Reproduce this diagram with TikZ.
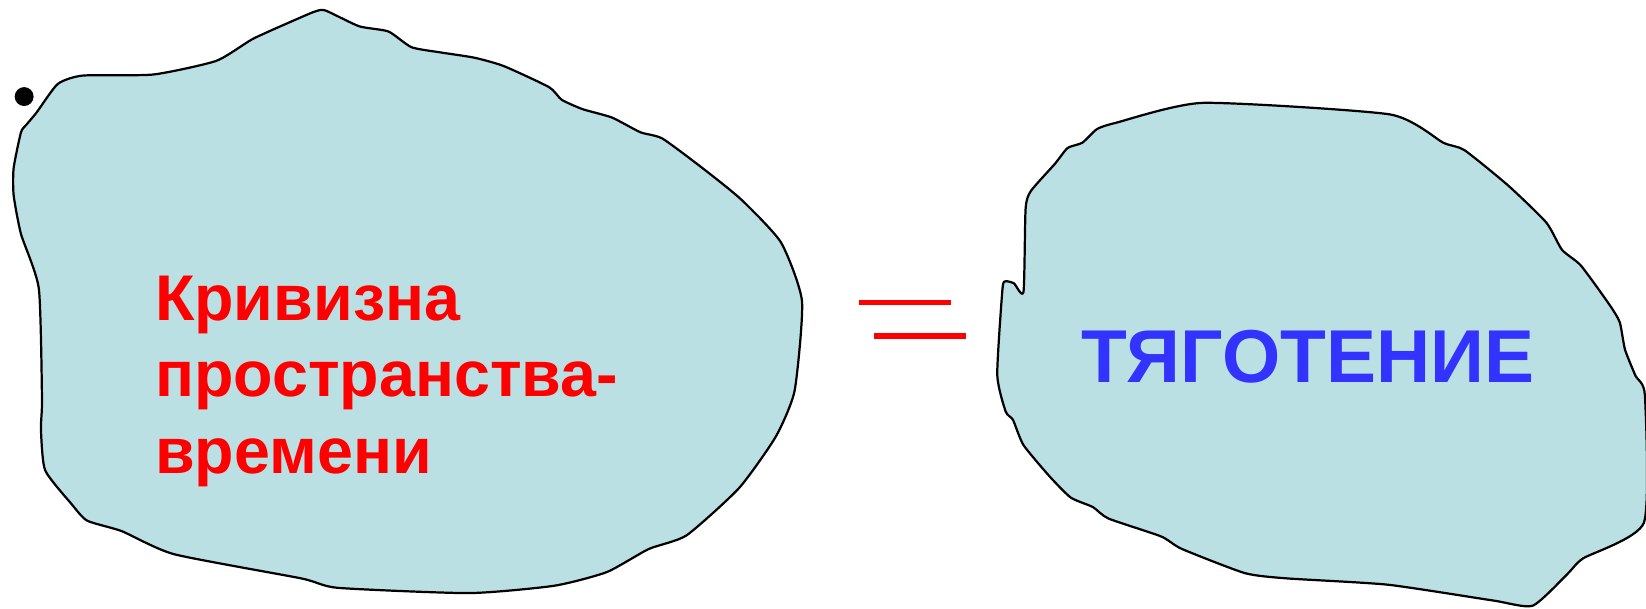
\documentclass[tikz,border=0pt]{standalone}
\usepackage{fontspec}
\setmainfont{Liberation Sans}
\definecolor{blobfill}{RGB}{187,224,227}
\definecolor{tblue}{RGB}{51,51,255}
\definecolor{tred}{RGB}{255,0,0}
\tikzset{
  blob/.style={draw=black, line width=0.6pt, fill=blobfill, line join=round},
  eqline/.style={draw=tred, line width=1.45pt},
  redtext/.style={text=tred, inner sep=0pt, align=left, font=\fontsize{17.5pt}{20.8pt}\selectfont\bfseries},
  bluetext/.style={text=tblue, inner sep=0pt, font=\fontsize{20.3pt}{24pt}\selectfont\bfseries}
}
\begin{document}
\begin{tikzpicture}[x=0.01cm,y=-0.01cm]
\useasboundingbox (0,0) rectangle (1568,580);
% left blob
\path[blob] plot[smooth cycle, tension=0.35] coordinates {
(25,119) (35,107) (55,80) (79,72) (146,71) (206,58) (241,37) (281,19) (300,11) (310,10)
(342,25) (370,30) (392,45) (420,50) (452,55) (480,63) (523,83) (535,95) (555,104) (583,112)
(610,126) (631,132) (669,160) (706,190) (744,231) (764,287) (757,372) (739,416) (704,465)
(654,510) (618,523) (578,545) (528,558) (447,565) (322,560) (287,551) (166,528) (116,506)
(83,496) (68,480) (43,448) (39,409) (40,380) (37,275) (20,223) (13,186) (13,160) (20,126)};
% dot
\fill[black] (23,92) circle (9);
% right blob
\path[blob] plot[smooth cycle, tension=0.35] coordinates {
(1063,117) (1146,98) (1324,109) (1375,136) (1395,143) (1437,177) (1473,212) (1488,238)
(1506,253) (1533,290) (1543,307) (1548,333) (1558,358) (1567,377) (1566,498) (1508,532)
(1493,547) (1460,577) (1422,572) (1322,557) (1226,551) (1186,546) (1126,523) (1106,511)
(1056,494) (1041,483) (1020,474) (1000,454) (975,424) (965,400) (958,392) (950,357)
(955,275) (958,268) (966,270) (975,278) (977,199) (982,182) (1005,156) (1017,141)
(1031,136) (1045,123)};
% equals sign
\draw[eqline] (818,288) -- (906,288);
\draw[eqline] (833,320) -- (920,320);
% texts
\node[redtext, anchor=north west] (curv) at (147,262) {Кривизна\\пространства-\\времени};
\node[bluetext, anchor=base west] (grav) at (1030,364) {ТЯГОТЕНИЕ};
\end{tikzpicture}
\end{document}
